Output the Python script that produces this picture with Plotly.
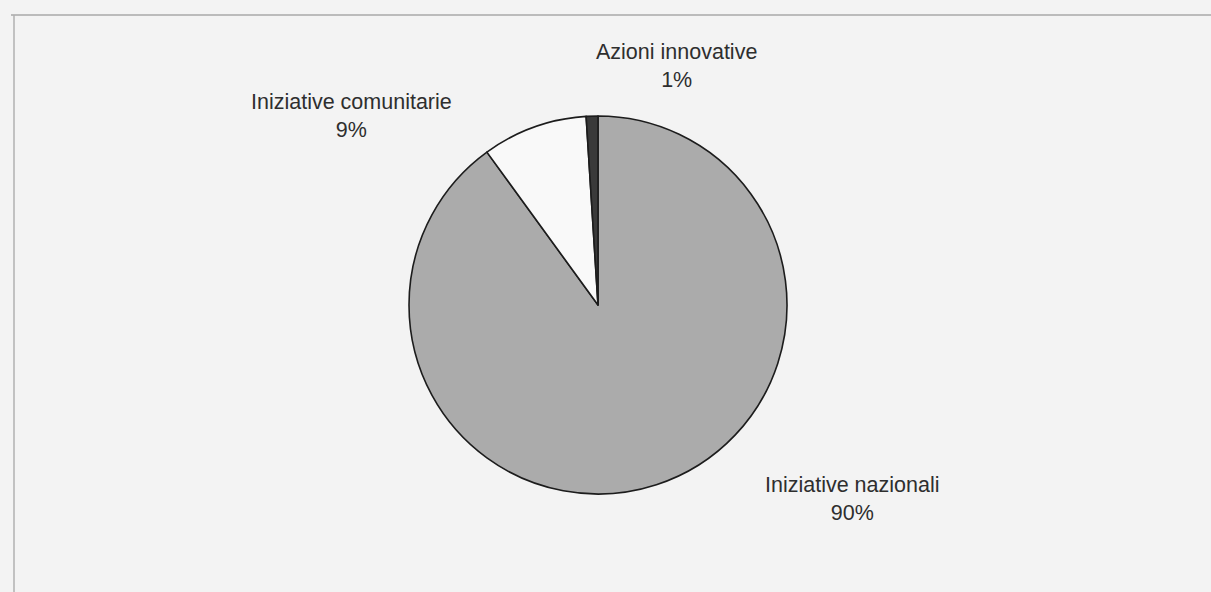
import plotly.graph_objects as go

# Data
categories = ["Iniziative nazionali", "Iniziative comunitarie", "Azioni innovative"]
shares = [90, 9, 1]

# Styling
slice_colors = ["#ababab", "#f9f9f9", "#3a3a3a"]
W, H = 1211, 592
# label centres (pixels) for each category
label_pos = [(852, 499), (351, 116), (676, 66)]

fig = go.Figure()
fig.add_trace(go.Pie(
    labels=categories,
    values=shares,
    sort=False,
    direction="clockwise",
    rotation=0,
    textinfo="none",
    hoverinfo="label+percent",
    showlegend=False,
    marker=dict(colors=slice_colors, line=dict(color="#1c1c1c", width=1.6)),
    domain=dict(x=[409 / W, 787 / W], y=[1 - 494 / H, 1 - 116 / H]),
))

for cat, val, (px, py) in zip(categories, shares, label_pos):
    fig.add_annotation(
        x=px / W, y=1 - py / H, xref="paper", yref="paper",
        text=f"{cat}<br>{val}%", showarrow=False,
        xanchor="center", yanchor="middle", align="center",
        font=dict(family="Liberation Sans, Arial, sans-serif", size=21.5, color="#2e2e2e"),
    )

# frame lines of the scanned page
fig.add_shape(type="line", xref="paper", yref="paper",
              x0=11 / W, x1=1, y0=1 - 15 / H, y1=1 - 15 / H,
              line=dict(color="#a8a8a8", width=1.5))
fig.add_shape(type="line", xref="paper", yref="paper",
              x0=14 / W, x1=14 / W, y0=0, y1=1 - 15 / H,
              line=dict(color="#b0b0b0", width=1.5))

fig.update_layout(
    width=W, height=H,
    margin=dict(l=0, r=0, t=0, b=0),
    paper_bgcolor="#f3f3f3",
    plot_bgcolor="#f3f3f3",
)

fig.write_html(
    "out.html",
    config={"displayModeBar": False},
    post_script="document.body.style.margin='0';document.body.style.overflow='hidden';document.body.style.background='#f3f3f3';",
)
